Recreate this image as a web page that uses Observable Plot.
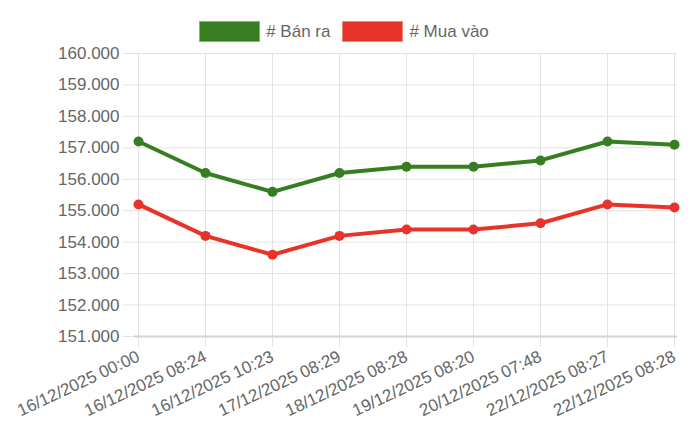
<!DOCTYPE html>
<html>
<head>
<meta charset="utf-8">
<script src="https://cdn.jsdelivr.net/npm/d3@7"></script>
<script src="https://cdn.jsdelivr.net/npm/@observablehq/plot@0.6"></script>
<style>
body { margin: 0; background: #fff; font-family: "Liberation Sans", Arial, sans-serif; }
#legend { height: 45px; display: flex; justify-content: center; align-items: flex-start; }
.item { display: flex; align-items: center; margin-top: 21px; margin-right: 12px; font-size: 17px; color: #666; }
.sw { width: 59px; height: 19px; margin-right: 6px; border: 1px solid rgba(255,255,255,0.4); }
</style>
</head>
<body>
<div id="legend"></div>
<div id="chart"></div>
<script>
let times = ["16/12/2025 00:00", "16/12/2025 08:24", "16/12/2025 10:23", "17/12/2025 08:29",
  "18/12/2025 08:28", "19/12/2025 08:20", "20/12/2025 07:48", "22/12/2025 08:27", "22/12/2025 08:28"]
let banRa = [157200, 156200, 155600, 156200, 156400, 156400, 156600, 157200, 157100]
let muaVao = [155200, 154200, 153600, 154200, 154400, 154400, 154600, 155200, 155100]
let seriesNames = ["# Bán ra", "# Mua vào"]
let seriesColors = ["#377d21", "#e8332a"]
let yTicks = d3.range(151000, 160001, 1000)

let rows = []
times.forEach((t, i) => {
  rows.push({time: t, value: banRa[i], series: seriesNames[0]})
  rows.push({time: t, value: muaVao[i], series: seriesNames[1]})
})

// legend (html, above the svg)
seriesNames.forEach((name, i) => {
  let item = d3.select("#legend").append("div").attr("class", "item")
  item.append("div").attr("class", "sw").style("background", seriesColors[i])
  item.append("span").text(name)
})

let fmt = d => d3.format(",")(d).replace(/,/g, ".")

let chart = Plot.plot({
  width: 700,
  height: 395,
  marginLeft: 134,
  marginRight: 23,
  marginTop: 8,
  marginBottom: 104,
  style: {
    fontFamily: "Liberation Sans, Arial, sans-serif",
    fontSize: "17px",
    color: "#666",
    background: "#fff"
  },
  x: { type: "point", domain: times, padding: 0 },
  y: { domain: [151000, 160000] },
  color: { domain: seriesNames, range: seriesColors },
  marks: [
    Plot.gridX(times, { stroke: "#e3e3e3", strokeOpacity: 1 }),
    Plot.gridY(yTicks, { stroke: "#e3e3e3", strokeOpacity: 1 }),
    Plot.axisY(yTicks, { tickFormat: fmt, tickSize: 11, tickPadding: 4, stroke: "#e3e3e3", label: null, fill: "#666", fontSize: 17 }),
    Plot.axisX(times, { tickSize: 11, tickRotate: -25, tickPadding: 8, stroke: "#e3e3e3", label: null, fill: "#666", fontSize: 17 }),
    Plot.ruleY([151000], { stroke: "#d4d4d4", strokeWidth: 2 }),
    Plot.line(rows, { x: "time", y: "value", stroke: "series", strokeWidth: 4 }),
    Plot.dot(rows, { x: "time", y: "value", fill: "series", r: 5 })
  ]
})

d3.select("#chart").append(() => chart)
</script>
</body>
</html>
